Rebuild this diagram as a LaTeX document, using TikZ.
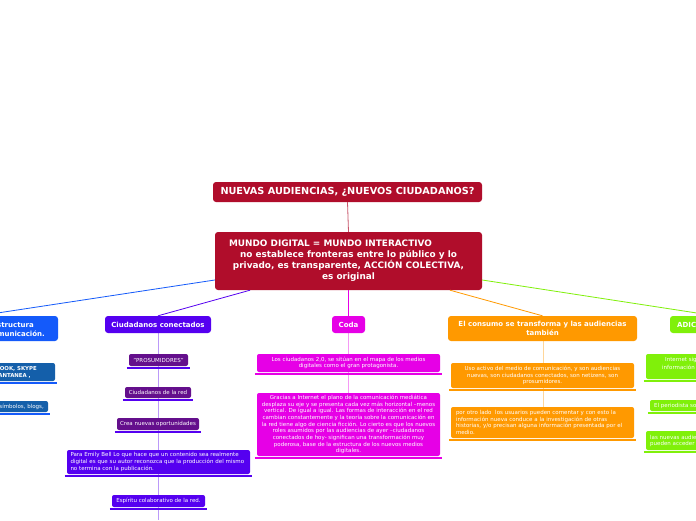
\documentclass[tikz,border=0pt]{standalone}
\usepackage{fontspec}
\setmainfont{DejaVu Sans}
\usetikzlibrary{calc}
\definecolor{crim}{RGB}{176,13,43}
\definecolor{cblue}{RGB}{20,90,250}
\definecolor{cbluedark}{RGB}{20,95,170}
\definecolor{cpurp}{RGB}{85,0,240}
\definecolor{cpurpdark}{RGB}{100,15,140}
\definecolor{cmag}{RGB}{230,0,230}
\definecolor{corange}{RGB}{255,153,0}
\definecolor{cgreen}{RGB}{128,240,10}
\newcommand\mybar[2]{\draw[line width=2pt,#1] ([xshift=-2pt,yshift=-2pt]#2.south west) -- ([xshift=2pt,yshift=-2pt]#2.south east);}
\tikzset{
  mainbox/.style={rounded corners=3pt, inner sep=0pt, text=white, align=center,
    font=\bfseries\fontsize{7}{9}\selectfont},
  subbox/.style={rounded corners=2pt, inner sep=0pt, text=white, align=center,
    font=\fontsize{5.5}{6.7}\selectfont},
  conn/.style={line width=0.8pt},
  lbl/.style={inner sep=0pt, text=white}
}
\begin{document}
\begin{tikzpicture}[x=1pt,y=-1pt]
\useasboundingbox (0,0) rectangle (696,520);
\clip (0,0) rectangle (696,520);
\fill[white] (0,0) rectangle (696,520);

% column lines
\draw[conn, cpurp!40] (158,333) -- (158,520);
\draw[conn, cmag!40] (348.5,333) -- (348.5,393);
\draw[conn, corange!40] (543,341) -- (543,407);

% title and central
\node[mainbox, fill=crim, minimum width=269pt, minimum height=20pt,
  font=\bfseries\fontsize{9.7}{11}\selectfont] (title) at (347.5,192) {NUEVAS AUDIENCIAS, ¿NUEVOS CIUDADANOS?};
\node[mainbox, fill=crim, minimum width=267pt, minimum height=58pt,
  font=\bfseries\fontsize{8.9}{11}\selectfont] (central) at (348.5,261)
  {MUNDO DIGITAL = MUNDO INTERACTIVO\hspace*{36pt}\\no establece fronteras entre lo público y lo\\privado, es transparente, ACCIÓN COLECTIVA,\\es original};

% main branches
\node[mainbox, fill=cblue, minimum width=158pt, minimum height=25pt] (estr) at (-21,328.5) {};
\node[lbl, anchor=east, font=\bfseries\fontsize{7}{9}\selectfont] (estr1) at (34,325) {Nueva estructura};
\node[lbl, anchor=east, font=\bfseries\fontsize{7}{9}\selectfont] (estr2) at (45,334) {de la comunicación.};
\node[mainbox, fill=cpurp, minimum width=106pt, minimum height=17pt] (ciud) at (158,324.5) {Ciudadanos conectados};
\node[mainbox, fill=cmag, minimum width=33pt, minimum height=17pt] (coda) at (348.5,324.5) {Coda};
\node[mainbox, fill=corange, minimum width=189pt, minimum height=25pt] (cons) at (542.5,328.5) {El consumo se transforma y las audiencias\\también};
\node[mainbox, fill=cgreen, minimum width=90pt, minimum height=17pt] (adic) at (715,324.5) {};
\node[lbl, anchor=west, font=\bfseries\fontsize{7}{9}\selectfont] (adict) at (677,324.5) {ADICIONALES};

% connectors
\draw[conn, crim!70] (title.south) -- (central.north);
\draw[conn, cblue] ([yshift=-19pt]central.west) -- (estr.north);
\draw[conn, cpurp] ([xshift=-98.5pt]central.south) -- (ciud.north);
\draw[conn, cmag] (central.south) -- (coda.north);
\draw[conn, corange] ([xshift=101.5pt]central.south) -- (cons.north);
\draw[conn, cgreen] ([yshift=-19pt]central.east) -- (adic.north);

% blue subs
\node[subbox, fill=cbluedark, minimum width=120pt, minimum height=18pt] (b1) at (-5,372) {};
\mybar{cblue}{b1}
\node[lbl, anchor=east, font=\bfseries\fontsize{5.4}{6.7}\selectfont] (b1a) at (37,369) {FACEBOOK, SKYPE};
\node[lbl, anchor=east, font=\bfseries\fontsize{5.4}{6.7}\selectfont] (b1b) at (31,376) {MENSAJERÍA INSTANTANEA ,};
\node[subbox, fill=cbluedark, minimum width=110pt, minimum height=11pt] (b2) at (-7,406.5) {};
\mybar{cblue}{b2}
\node[lbl, anchor=east, font=\fontsize{5.5}{6.7}\selectfont] (b2a) at (44,407) {Emoticonos, símbolos, blogs,};

% purple subs
\node[subbox, fill=cpurpdark, minimum width=59pt, minimum height=12pt] (p1) at (158.5,360) {"PROSUMIDORES"};
\mybar{cpurp}{p1}
\node[subbox, fill=cpurpdark, minimum width=66pt, minimum height=11pt] (p2) at (158,392.5) {Ciudadanos de la red};
\mybar{cpurp}{p2}
\node[subbox, fill=cpurpdark, minimum width=82pt, minimum height=12pt] (p3) at (158,424) {Crea nuevas oportunidades};
\mybar{cpurp}{p3}
\node[subbox, fill=cpurp, minimum width=183pt, minimum height=24pt, text width=176pt, align=left] (p4) at (158.5,462)
  {Para Emily Bell Lo que hace que un contenido sea realmente\\digital es que su autor reconozca que la producción del mismo\\no termina con la publicación.};
\mybar{cpurp}{p4}
\node[subbox, fill=cpurp, minimum width=93pt, minimum height=12pt] (p5) at (158.5,501) {Espíritu colaborativo de la red.};
\mybar{cpurp}{p5}

% coda subs
\node[subbox, fill=cmag, minimum width=183pt, minimum height=18pt] (m1) at (348.5,363)
  {Los ciudadanos 2,0, se sitúan en el mapa de los medios\\digitales como el gran protagonista.};
\mybar{cmag}{m1}
\node[subbox, fill=cmag, minimum width=183pt, minimum height=63pt] (m2) at (348.5,424.5)
  {Gracias a Internet el plano de la comunicación mediática\\desplaza su eje y se presenta cada vez más horizontal –menos\\vertical. De igual a igual. Las formas de interacción en el red\\cambian constantemente y la teoría sobre la comunicación en\\la red tiene algo de ciencia ficción. Lo cierto es que los nuevos\\roles asumidos por las audiencias de ayer –ciudadanos\\conectados de hoy- significan una transformación muy\\poderosa, base de la estructura de los nuevos medios\\digitales.};
\mybar{cmag}{m2}

% orange subs
\node[subbox, fill=corange, minimum width=183pt, minimum height=25pt] (o1) at (542.5,375.5)
  {Uso activo del medio de comunicación, y son audiencias\\nuevas, son ciudadanos conectados, son netizens, son\\prosumidores.};
\mybar{corange}{o1}
\node[subbox, fill=corange, minimum width=183pt, minimum height=31pt, text width=173pt, align=left] (o2) at (542.5,422.5)
  {por otro lado\ \ los usuarios pueden comentar y con esto la\\información nueva conduce a la investigación de otras\\historias, y/o precisan alguna información presentada por el\\medio.};
\mybar{corange}{o2}

% green subs
\node[subbox, fill=cgreen, minimum width=120pt, minimum height=25pt] (g1) at (706,366.5) {};
\mybar{cgreen}{g1}
\node[lbl, anchor=west, font=\fontsize{5.5}{6.7}\selectfont] (g1a) at (665,360) {Internet significa};
\node[lbl, anchor=west, font=\fontsize{5.5}{6.7}\selectfont] (g1b) at (662,367) {información};
\node[subbox, fill=cgreen, minimum width=110pt, minimum height=11pt] (g2) at (705,405.5) {};
\mybar{cgreen}{g2}
\node[lbl, anchor=west, font=\fontsize{5.5}{6.7}\selectfont] (g2a) at (654,405.5) {El periodista sobre};
\node[subbox, fill=cgreen, minimum width=120pt, minimum height=19pt] (g3) at (706,440.5) {};
\mybar{cgreen}{g3}
\node[lbl, anchor=west, font=\fontsize{5.5}{6.7}\selectfont] (g3a) at (650,437) {las nuevas audiencias};
\node[lbl, anchor=west, font=\fontsize{5.5}{6.7}\selectfont] (g3b) at (650,444) {pueden acceder para};
\end{tikzpicture}
\end{document}
